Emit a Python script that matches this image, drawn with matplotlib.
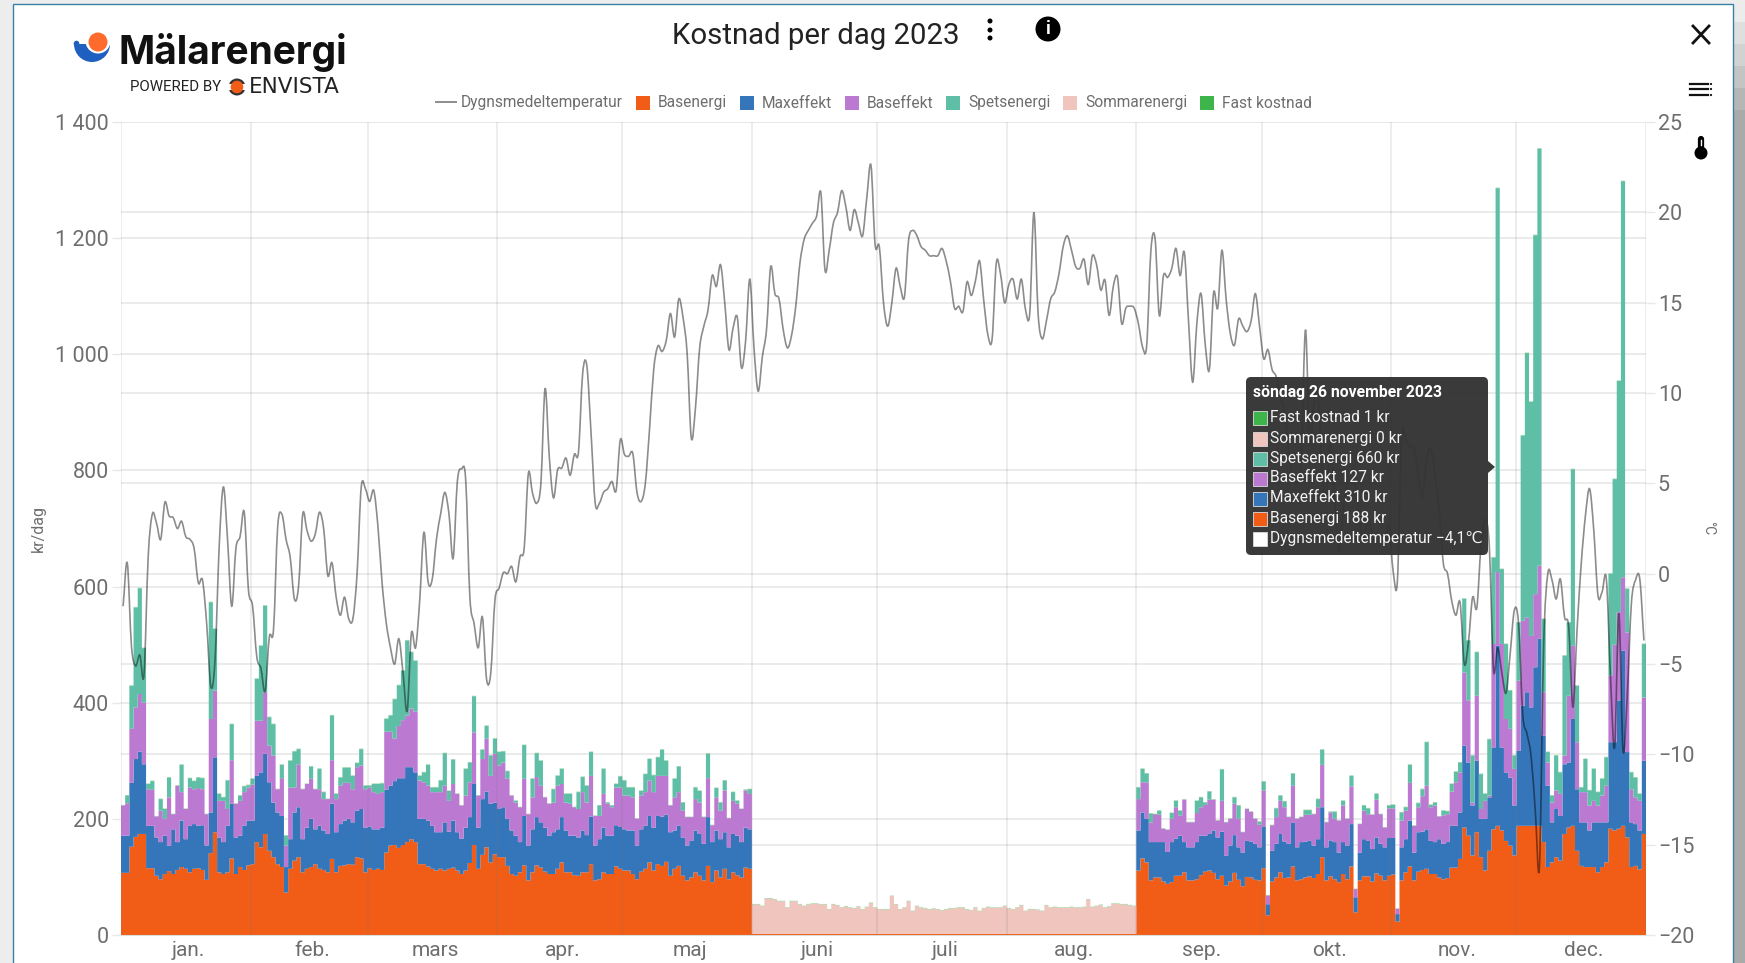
import matplotlib
matplotlib.use('Agg')
import matplotlib.pyplot as plt
import numpy as np
from matplotlib.patches import Circle, FancyBboxPatch, PathPatch, Polygon, Rectangle, Wedge
from matplotlib.path import Path

plt.rcParams['font.family'] = ['Roboto', 'DejaVu Sans']

# levels, top of each stacked layer in kr per day
# jan - maj (151 days)
jm_basenergi = [107,107,152,169,174,174,115,115,102,96,105,110,105,112,117,114,108,114,115,112,95,141,177,108,105,108,132,105,117,112,120,
    122,160,151,174,145,134,122,117,73,114,128,134,108,114,117,122,114,112,108,131,108,119,120,122,121,134,132,108,
    115,112,114,112,142,154,155,150,155,160,165,160,122,122,118,114,111,114,111,114,116,111,105,111,124,155,114,138,151,125,139,
    134,134,119,105,102,108,120,94,108,120,116,109,105,105,114,125,108,108,103,102,108,108,122,94,96,108,105,105,118,114,
    111,111,105,96,109,114,125,111,122,119,126,102,114,119,102,94,99,108,102,94,119,91,111,99,114,96,108,103,99,116,114]
jm_maxeffekt = [171,171,262,303,316,294,188,188,168,160,171,154,182,160,197,165,188,191,188,189,154,211,306,168,160,188,226,168,171,188,197,
    197,274,280,312,263,228,211,205,117,165,211,220,165,185,200,182,188,180,174,226,177,191,197,200,194,214,217,185,
    187,182,182,185,250,257,265,270,270,289,289,280,200,200,197,188,177,177,194,178,197,177,166,185,203,260,185,234,247,226,228,
    217,220,200,180,171,160,205,154,182,203,194,185,171,177,182,203,180,171,171,168,180,172,204,154,165,185,171,171,189,186,
    182,180,180,154,182,188,205,185,205,204,207,177,180,188,168,154,162,180,174,157,203,160,180,165,177,151,174,171,160,185,182]
jm_baseffekt = [223,227,355,392,415,400,251,250,204,214,200,237,208,257,246,217,254,251,253,251,208,372,421,231,231,217,301,226,231,246,254,
    259,369,369,418,326,309,251,270,154,254,254,294,251,260,269,251,251,234,234,301,234,257,262,262,251,289,292,251,
    254,246,243,246,350,350,338,360,370,378,390,385,266,263,257,246,246,246,257,231,260,243,223,240,263,349,240,303,338,274,312,
    292,297,269,240,228,220,269,208,237,272,257,237,226,228,257,260,228,226,220,217,246,228,274,205,205,243,226,220,254,254,
    240,240,237,200,240,246,266,246,274,274,274,223,237,246,214,203,203,234,228,203,270,189,237,214,249,201,231,226,217,249,243]
jm_spetsenergi = [223,240,429,564,597,494,260,265,204,234,217,271,208,257,293,217,270,265,271,270,208,573,527,243,237,266,363,226,240,256,258,
    269,441,498,567,375,363,251,293,171,300,316,320,251,260,290,251,286,246,234,378,243,271,288,288,274,296,320,257,
    257,260,260,261,372,378,406,430,455,507,487,472,274,280,293,254,254,266,313,248,302,243,223,286,297,411,240,319,360,309,338,
    315,316,282,240,231,220,327,208,269,313,300,237,226,251,274,286,243,243,220,246,272,257,315,205,223,286,228,223,260,273,
    266,254,254,200,248,277,303,275,306,319,300,223,269,290,228,203,203,254,248,203,312,189,253,228,266,201,246,231,217,250,251]

# juni - aug (92 days)
sommarenergi = [50.5,50.5,47.6,60.8,60.8,59,56,56,44.8,56,56,50.5,47.6,50.5,51.7,51.7,50.5,50.5,41.9,50.5,48.8,44.8,47,44.8,43.6,46.5,41.9,45.9,53,44.8,
    41.9,41.9,41.9,64.9,50.5,41.9,44.8,56,39,47.6,44.8,43.6,41.9,43,41.9,40.2,41.9,43.6,43.6,44.8,
    44.8,41.9,40.2,44.8,39,43.6,45.9,44.8,44.8,44.8,47.6,43.6,41.9,44.8,48.8,39,41.9,41.9,40.8,39,
    48.8,44.8,45.9,44.8,44.8,44.8,45.9,44.8,44.8,45.9,59,45.9,47.6,49.5,44.8,46.5,51.7,51.7,50.5,50.5,49,47.6]

# sep - dec (122 days)
sd_basenergi = [111,132,125,94,99,99,92,88,91,102,102,108,94,94,96,103,109,111,107,96,102,85,92,107,95,84,100,99,95,94,
    115,34,92,99,108,98,99,118,94,96,99,101,98,105,134,94,101,96,91,105,96,118,39,94,101,101,92,106,102,94,102,
    104,23,94,108,118,94,109,112,114,105,105,99,96,98,116,116,131,185,171,137,177,134,111,145,182,188,180,162,154,
    137,188,188,188,188,188,188,160,117,125,134,128,174,185,188,145,119,117,117,117,108,117,125,183,180,183,188,168,117,119,113,174]
sd_maxeffekt = [180,211,200,160,160,160,160,143,160,166,171,160,151,151,160,171,171,174,180,168,178,137,154,172,151,142,162,161,157,151,
    187,53,145,157,174,161,157,193,151,160,161,162,154,165,220,151,163,160,142,160,154,191,65,142,165,162,148,168,157,151,167,
    167,36,151,165,197,142,177,178,182,162,160,165,157,160,188,188,211,326,297,223,300,200,200,237,323,498,323,280,271,
    223,317,395,418,392,461,510,343,257,194,217,205,294,297,372,251,194,194,180,194,194,194,194,332,332,404,490,315,194,191,180,300]
sd_baseffekt = [234,263,263,194,208,207,183,181,200,220,206,233,194,194,210,220,224,233,233,197,231,194,200,226,200,177,217,212,200,190,
    249,68,189,203,231,220,203,257,200,203,207,207,208,220,293,194,211,200,197,223,200,256,79,191,214,208,207,233,208,185,218,
    218,45,197,214,262,188,220,239,257,220,223,204,206,208,247,263,280,452,404,228,412,217,231,240,501,625,501,372,355,
    286,438,541,547,515,587,636,418,297,228,249,243,309,412,498,332,246,246,223,231,223,240,257,447,500,556,616,521,251,237,231,409]
sd_spetsenergi = [254,286,278,209,208,214,183,181,210,231,214,233,194,194,231,237,228,247,233,197,285,194,200,237,223,177,217,212,200,195,
    264,68,189,218,240,230,203,278,200,203,215,215,208,234,319,194,212,212,197,231,200,274,79,191,223,218,207,243,208,185,223,
    224,45,211,220,293,188,227,251,332,224,228,204,214,213,260,281,297,579,507,309,487,277,243,337,650,1286,630,501,421,
    309,538,860,1002,918,1205,1354,544,315,240,309,280,481,538,802,429,254,303,249,286,246,269,306,622,785,954,1298,596,280,271,243,501]

# dygnsmedeltemperatur, degrees C per day
temperatur = [-1.8,0.6,-4.0,-5.1,-4.5,-5.6,0.9,3.3,2.8,1.9,3.95,3.2,3.1,2.5,2.9,2.05,1.9,1.4,-0.5,-0.35,-2.75,-6.25,-4.8,1.5,4.8,1.9,-1.8,1.4,2.05,3.4,-0.9,
    -1.8,-4.6,-5.25,-6.5,-3.5,-3.1,2.6,3.3,1.9,0.9,-1.4,-0.7,3.3,2.4,1.8,2.2,3.4,2.5,-0.1,0.6,-1.3,-2.3,-1.3,-2.5,-2.5,0.0,4.8,4.7,
    4.0,4.6,2.6,-0.55,-2.75,-4.1,-5.0,-3.6,-5.5,-7.6,-3.3,-4.1,-1.46,2.3,-0.45,-0.3,1.9,3.3,4.5,3.3,0.85,5.1,5.8,5.2,-1.3,-2.75,-4.1,-2.4,-5.85,-5.5,-1.46,
    -0.8,0.05,0.0,0.4,-0.45,0.94,1.4,5.55,4.45,3.9,5.0,10.25,6.5,4.2,5.75,5.85,6.4,5.45,6.6,6.75,11.1,11.5,7.8,3.9,3.9,4.5,4.7,5.1,4.6,7.4,
    6.6,6.5,6.65,4.5,4.0,5.0,8.0,11.3,12.6,12.3,12.9,14.4,13.1,15.2,14.2,12.2,7.5,9.2,12.5,13.7,14.6,16.5,15.9,17.1,15.0,12.4,13.6,14.2,11.4,12.9,16.3,
    12.5,10.1,12.0,13.5,17.0,15.5,15.2,13.5,12.5,13.2,14.8,17.2,18.5,19.0,19.4,19.8,21.1,16.8,17.9,19.4,20.0,21.2,20.3,19.0,20.15,19.4,18.7,20.8,22.6,18.2,
    18.1,15.0,13.7,15.0,16.9,15.9,15.3,18.45,19.0,18.7,18.1,17.9,17.6,17.6,17.6,18.0,17.3,16.2,14.7,14.8,14.5,16.15,15.4,16.2,17.3,15.1,13.2,13.0,17.2,16.6,15.0,
    16.0,16.3,15.2,16.3,14.6,14.4,20.0,14.4,13.0,14.0,15.2,15.6,16.6,18.1,18.7,17.9,17.0,16.9,17.4,16.0,17.6,17.1,15.7,16.25,14.3,15.9,16.4,13.85,14.7,14.8,14.7,
    13.85,12.55,12.65,17.9,18.55,14.3,16.5,16.4,16.9,18.0,16.5,17.8,14.0,10.6,13.85,15.5,12.7,11.3,15.55,14.7,17.9,15.2,13.3,12.65,14.1,13.7,13.4,14.0,15.5,13.7,
    11.9,12.4,11.3,10.9,9.8,9.0,6.8,5.5,5.0,6.5,13.5,7.2,9.4,9.8,5.4,4.4,7.2,4.0,1.2,3.5,5.0,5.0,4.8,2.8,2.0,3.0,2.0,1.7,1.9,1.7,2.6,
    0.1,-0.4,7.55,7.4,7.0,7.0,5.4,4.25,6.3,6.9,5.5,3.5,0.56,0.0,-1.5,-2.3,-1.6,-5.0,-3.8,-1.3,-1.9,1.5,3.0,1.5,-5.3,-4.1,-5.5,-6.6,-4.4,-2.0,
    -2.75,-7.8,-8.85,-10.1,-13.1,-16.2,-4.0,0.0,-0.35,-1.4,-0.3,-2.4,-2.95,-7.4,-3.1,0.56,3.2,4.7,2.4,-1.2,-1.0,-0.27,-5.7,-9.6,-2.2,-9.8,-6.8,-1.65,-0.35,-0.27,-3.7]

fast_kostnad = 1
manader = ['jan.', 'feb.', 'mars', 'apr.', 'maj', 'juni', 'juli', 'aug.', 'sep.', 'okt.', 'nov.', 'dec.']
manadsdagar = [31, 28, 31, 30, 31, 30, 31, 31, 30, 31, 30, 31]
kr_ticks = [0, 200, 400, 600, 800, 1000, 1200, 1400]
kr_labels = ['0', '200', '400', '600', '800', '1 000', '1 200', '1 400']
temp_ticks = [-20, -15, -10, -5, 0, 5, 10, 15, 20, 25]
temp_labels = ['−20', '−15', '−10', '−5', '0', '5', '10', '15', '20', '25']

c_bas = '#F15C17'
c_max = '#3575B9'
c_beff = '#BC79D2'
c_spets = '#5FBFA6'
c_sommar = '#EFC5BD'
c_fast = '#3DB54A'
grey = '#6e6e6e'
gridc = '#e8e8e8'

# stack up the year from the levels
botten = np.full(len(sommarenergi), 2.0)  # thin orange edge under the summer bars
niva_bas = np.concatenate([jm_basenergi, botten, sd_basenergi])
niva_max = np.concatenate([jm_maxeffekt, botten, sd_maxeffekt])
niva_beff = np.concatenate([jm_baseffekt, botten, sd_baseffekt])
niva_spets = np.concatenate([jm_spetsenergi, botten, sd_spetsenergi])
niva_sommar = niva_spets + np.concatenate([np.zeros(len(jm_basenergi)), sommarenergi, np.zeros(len(sd_basenergi))])
dagar = np.arange(len(niva_bas)) + 0.5
kanter = np.arange(len(niva_bas) + 1)
manad_start = np.concatenate([[0], np.cumsum(manadsdagar)])

W, H = 1745, 963
fig = plt.figure(figsize=(W / 100, H / 100), dpi=100, facecolor='#ededed')
ax = fig.add_axes([121 / W, (H - 935) / H, 1525 / W, 813 / H], zorder=2)
ax.set_facecolor('none')

lager = [(np.zeros(len(dagar)), niva_bas, c_bas), (niva_bas, niva_max, c_max), (niva_max, niva_beff, c_beff),
         (niva_beff, niva_spets, c_spets), (niva_spets, niva_sommar, c_sommar)]
for under, over, farg in lager:
    ax.stairs(over, kanter, baseline=under, fill=True, color=farg, linewidth=0, zorder=2)
# fast kostnad is only a hairline on top of the summer bars
ax.stairs(niva_sommar + fast_kostnad, kanter, baseline=niva_sommar, fill=True, color=c_fast, alpha=0.5, linewidth=0, zorder=2)

ax.set_xlim(0, 365)
ax.set_ylim(0, 1400)
ax.set_yticks(kr_ticks, kr_labels)
ax.set_xticks(manad_start[:-1] + np.array(manadsdagar) / 2 + 0.7, manader)
ax.tick_params(axis='y', length=6.5, width=1, color=gridc, labelcolor=grey, labelsize=15.5, pad=2)
ax.tick_params(axis='x', length=0, labelcolor=grey, labelsize=15, pad=4)
for s in ['top', 'left', 'right']:
    ax.spines[s].set_visible(False)
ax.spines['bottom'].set_color('#dcdcdc')

# grid behind the bars for both scales, month lines on top of them
for v in kr_ticks:
    ax.axhline(v, color=gridc, lw=1.2, zorder=1)
for t in temp_ticks:
    ax.axhline((t + 20) / 45 * 1400, color=gridc, lw=1.2, zorder=1)
for m in manad_start:
    ax.axvline(m, color='#777777', alpha=0.17, lw=1.1, zorder=3)
ax.set_ylabel('kr/dag', color=grey, fontsize=11.5)
ax.yaxis.set_label_coords(-0.049, 0.5)

ax2 = ax.twinx()
ax2.set_ylim(-20, 25)
ax2.set_yticks(temp_ticks, temp_labels)
ax2.tick_params(axis='y', length=6.5, width=1, color=gridc, labelcolor=grey, labelsize=15.5, pad=2)
for s in ax2.spines.values():
    s.set_visible(False)
ax2.set_ylabel('°C', color=grey, fontsize=10, rotation=-90)
ax2.yaxis.set_label_coords(1.0455, 0.5)

# smooth temperature line, bezier through the daily values
y = np.array(temperatur)
lut = np.gradient(y)
verts = [(dagar[0], y[0])]
codes = [Path.MOVETO]
for i in range(len(y) - 1):
    verts += [(dagar[i] + 1 / 3, y[i] + lut[i] / 3), (dagar[i + 1] - 1 / 3, y[i + 1] - lut[i + 1] / 3), (dagar[i + 1], y[i + 1])]
    codes += [Path.CURVE4] * 3
ax2.add_patch(PathPatch(Path(verts, codes), fill=False, edgecolor='black', alpha=0.45, lw=1.2, zorder=5))

# everything else is drawn in screen pixels on a full-size overlay
ov = fig.add_axes([0, 0, 1, 1], zorder=4)
ov.set_xlim(0, W)
ov.set_ylim(H, 0)
ov.axis('off')
pan = fig.add_axes([0, 0, 1, 1], zorder=0)
pan.set_xlim(0, W)
pan.set_ylim(H, 0)
pan.axis('off')

# screenshot frame
for i, farg in enumerate(['#ececec', '#dfdfdf', '#d2d2d2', '#c4c4c4', '#b6b6b6', '#aaaaaa']):
    pan.add_patch(Rectangle((1733, i * 22), 12, H, color=farg, lw=0))
pan.add_patch(Rectangle((13, 4), 1720, H, facecolor='white', edgecolor='#3a7fa8', lw=1))

# logo
ov.add_patch(Wedge((92, 44), 18, 0, 180, color='#1F5FBF', lw=0))
ov.add_patch(Circle((76.5, 43.5), 2.8, color='#1F5FBF', lw=0))
ov.add_patch(Circle((98, 41), 12.5, color='white', lw=0))
ov.add_patch(Circle((98, 42), 9.5, color='#FF6B2C', lw=0))
ov.text(119, 52, 'Mälarenergi', fontsize=28, fontweight='bold', family=['Inter', 'DejaVu Sans'], color='#111111', ha='left', va='center')
ov.text(130, 87, 'POWERED BY', fontsize=10.8, color='#222222', ha='left', va='center')
ov.add_patch(Circle((237, 87), 8.5, color='#333333', lw=0))
ov.add_patch(Rectangle((228, 84), 18, 6, color='white', lw=0))
ov.add_patch(Circle((237, 87), 6.3, color='#F15C17', lw=0))
ov.text(249, 87, 'ENVISTA', fontsize=15.5, family=['DejaVu Sans'], color='#222222', ha='left', va='center')

# title and icons
ov.text(816, 36, 'Kostnad per dag 2023', fontsize=21.2, color='#222222', ha='center', va='center')
for py in [21, 30, 38]:
    ov.add_patch(Circle((990, py), 2.5, color='black', lw=0))
ov.add_patch(Circle((1048, 29), 12.5, color='black', lw=0))
ov.text(1048, 29, 'i', fontsize=13, fontweight='bold', color='white', ha='center', va='center')
ov.plot([1693, 1709], [26, 43], color='#111111', lw=2)
ov.plot([1693, 1709], [43, 26], color='#111111', lw=2)
for py in [84, 89, 95]:
    ov.plot([1690, 1708], [py, py], color='#111111', lw=1.6)
    ov.add_patch(Circle((1711, py), 1.1, color='#111111', lw=0))
ov.plot([1701, 1701], [139, 150], color='black', lw=4.5, solid_capstyle='round')
ov.add_patch(Circle((1701, 153), 6.5, color='black', lw=0))
ov.plot([1701, 1701], [140, 145], color='white', lw=1)

# legend row
ov.plot([436, 456], [102, 102], color='#8c8c8c', lw=1.4)
ov.text(461, 103, 'Dygnsmedeltemperatur', fontsize=11.2, color=grey, ha='left', va='center')
legend_x = [636, 740, 845, 946, 1063, 1200]
legend_namn = ['Basenergi', 'Maxeffekt', 'Baseffekt', 'Spetsenergi', 'Sommarenergi', 'Fast kostnad']
legend_farg = [c_bas, c_max, c_beff, c_spets, c_sommar, c_fast]
for lx, namn, farg in zip(legend_x, legend_namn, legend_farg):
    ov.add_patch(Rectangle((lx, 96), 14.5, 14.5, color=farg, lw=0))
    ov.text(lx + 22, 103, namn, fontsize=11.2, color=grey, ha='left', va='center')

# tooltip
tip_rader = ['Fast kostnad 1 kr', 'Sommarenergi 0 kr', 'Spetsenergi 660 kr', 'Baseffekt 127 kr', 'Maxeffekt 310 kr', 'Basenergi 188 kr', 'Dygnsmedeltemperatur −4,1℃']
tip_farg = [c_fast, c_sommar, c_spets, c_beff, c_max, c_bas, 'white']
tip_y = [418, 439, 459, 479, 499, 519, 539]
ov.add_patch(FancyBboxPatch((1249, 380), 236, 172, boxstyle='round,pad=3,rounding_size=5', facecolor='#333333', edgecolor='none', alpha=0.97))
ov.add_patch(Polygon([(1488, 461), (1495, 467), (1488, 473)], color='#333333', alpha=0.97, lw=0))
ov.text(1253, 392, 'söndag 26 november 2023', fontsize=11.3, fontweight='bold', color='white', ha='left', va='center')
for py, rad, farg in zip(tip_y, tip_rader, tip_farg):
    ov.add_patch(Rectangle((1253, py - 7), 14.5, 14.5, facecolor=farg, edgecolor='#dddddd', lw=0.6))
    ov.text(1270, py - 1, rad, fontsize=11.2, color='#f2f2f2', ha='left', va='center')

fig.savefig('out.png', dpi=100, facecolor=fig.get_facecolor())
